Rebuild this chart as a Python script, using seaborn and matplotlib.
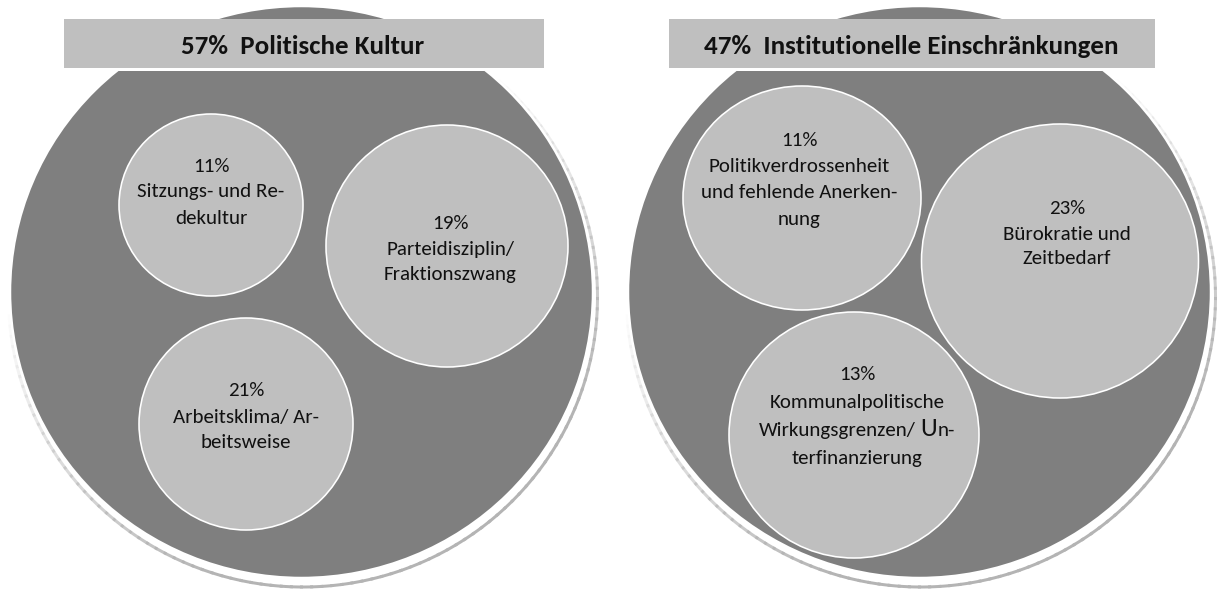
import matplotlib
matplotlib.use("Agg")
import matplotlib.pyplot as plt
from matplotlib.patches import Ellipse, Rectangle, Arc
from matplotlib import font_manager as fm
import numpy as np
import seaborn as sns

# ---------------- data ----------------
group_titles = ["Politische Kultur", "Institutionelle Einschränkungen"]
group_shares = [57, 47]

left_labels = ["Sitzungs- und Re-\ndekultur",
               "Parteidisziplin/\nFraktionszwang",
               "Arbeitsklima/ Ar-\nbeitsweise"]
left_shares = [11, 19, 21]

right_labels = ["Politikverdrossenheit\nund fehlende Anerken-\nnung",
                "Bürokratie und\nZeitbedarf",
                "Kommunalpolitische\nWirkungsgrenzen/ Un-\nterfinanzierung"]
right_shares = [11, 23, 13]

# ---------------- layout (pixels) ----------------
W, H = 1222, 594
panel_layout = [
    dict(cx=301.5, cy=292, rx=291.5, ry=286, box=(64, 544), title_x=303),
    dict(cx=919.5, cy=292, rx=291.5, ry=286, box=(669, 1155), title_x=911.5),
]
box_top, box_bottom, title_baseline = 19, 68, 53.5
# (circle cx, cy, rx, ry, text x, text centre y, line spacing)
bubble_layout = [
    [(211, 205, 92, 91, 211, 191, 26),
     (447, 246, 121, 121, 450, 248, 25.5),
     (246, 424, 107, 106, 246, 416, 26)],
    [(802, 198, 119, 112, 799, 179, 26),
     (1060, 261, 138.5, 137, 1067, 233, 25),
     (854, 435, 125, 123, 857, 415.5, 27.7)],
]
enlarged = {(1, 2): "U"}   # enlarged initial letter in that bubble
baseline_shift = 6.5

# ---------------- style ----------------
sns.set_theme(style="white")
installed = {f.name for f in fm.fontManager.ttflist}
main_font = "Carlito" if "Carlito" in installed else "Lato"
plt.rcParams["font.family"] = [main_font, "DejaVu Sans"]
dark, light = sns.color_palette(["#7f7f7f", "#bfbfbf"])
shadow_col = "#b4b4b4"
txt_col = "#111111"

fig = plt.figure(figsize=(W / 100, H / 100), dpi=100)
ax = fig.add_axes([0, 0, 1, 1])
ax.set_xlim(0, W)
ax.set_ylim(H, 0)
ax.axis("off")
renderer = fig.canvas.get_renderer()


def text_width(s, size, weight="normal"):
    t = ax.text(0, 0, s, fontsize=size, weight=weight)
    w = t.get_window_extent(renderer).width
    t.remove()
    return w


body_size = 10 * 181 / text_width("Politikverdrossenheit", 10)
title_size = 10 * 238 / text_width("57% Politische Kultur", 10, "bold")
px = 72 / 100  # points per pixel

all_labels = [left_labels, right_labels]
all_shares = [left_shares, right_shares]

for p, pl in enumerate(panel_layout):
    cx, cy, rx, ry = pl["cx"], pl["cy"], pl["rx"], pl["ry"]
    # fading shadow line at the bottom-right
    scx, scy, srx, sry = cx + 1.5, cy + 5, rx + 3, ry + 4
    thetas = np.arange(-50, 176, 2.0)
    for th in thetas:
        a = np.clip(min((th + 50) / 70, (176 - th) / 70), 0, 1)
        ax.add_patch(Arc((scx, scy), 2 * srx, 2 * sry, theta1=th, theta2=th + 2.6,
                         color=shadow_col, lw=3 * px, alpha=float(a), zorder=1))
    ax.add_patch(Ellipse((cx, cy), 2 * rx, 2 * ry, facecolor=dark,
                         edgecolor="white", lw=2.5 * px, zorder=2))
    # title box
    x0, x1 = pl["box"]
    ax.add_patch(Rectangle((x0, box_top), x1 - x0, box_bottom - box_top + 3,
                           facecolor="white", edgecolor="none", zorder=3))
    ax.add_patch(Rectangle((x0, box_top), x1 - x0, box_bottom - box_top,
                           facecolor=light, edgecolor="none", zorder=3))
    ax.text(pl["title_x"], title_baseline, f"{group_shares[p]}%  {group_titles[p]}",
            fontsize=title_size, weight="bold", color=txt_col,
            ha="center", va="baseline", zorder=5)
    # inner bubbles
    for i, (bx, by, brx, bry, tx, ty, sp) in enumerate(bubble_layout[p]):
        ax.add_patch(Ellipse((bx, by), 2 * brx, 2 * bry, facecolor=light,
                             edgecolor="white", lw=1.6 * px, zorder=4))
        lines = [f"{all_shares[p][i]}%"] + all_labels[p][i].split("\n")
        n = len(lines)
        for k, line in enumerate(lines):
            yb = ty + (k - (n - 1) / 2) * sp + baseline_shift
            big = enlarged.get((p, i))
            if big and big in line:
                j = line.index(big)
                pre, post = line[:j].rstrip(), line[j + 1:]
                big_size = body_size * 1.25
                space = text_width("a a", body_size) - text_width("aa", body_size)
                w_pre = text_width(pre, body_size)
                w_big = text_width(big, big_size)
                w_post = text_width(post, body_size)
                total = w_pre + space + w_big + 1 + w_post
                xs = tx - total / 2
                ax.text(xs, yb, pre, fontsize=body_size, color=txt_col,
                        ha="left", va="baseline", zorder=5)
                xs += w_pre + space
                ax.text(xs, yb, big, fontsize=big_size, color=txt_col,
                        ha="left", va="baseline", zorder=5)
                xs += w_big + 1
                ax.text(xs, yb, post, fontsize=body_size, color=txt_col,
                        ha="left", va="baseline", zorder=5)
            else:
                ax.text(tx, yb, line, fontsize=body_size, color=txt_col,
                        ha="center", va="baseline", zorder=5)

fig.savefig("out.png", dpi=100)
